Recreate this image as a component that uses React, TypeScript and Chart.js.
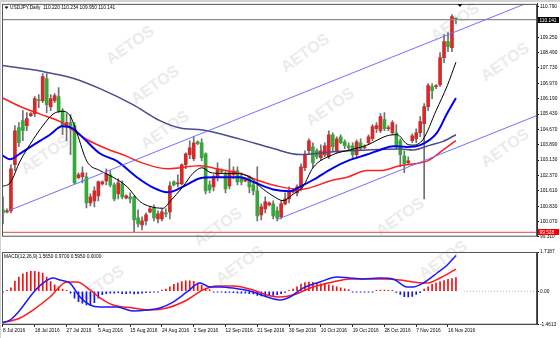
import React, { useEffect, useRef } from "react";
import { Chart, registerables } from "chart.js";

Chart.register(...registerables);

const FONT = "'Liberation Sans', Arial, sans-serif";

const titleText = "USDJPY,Daily  110.220 110.234 109.950 110.141";
const macdTitle = "MACD(12,26,9) 1.5650 0.9700 0.5950 0.0000";

const dateLabels = ["8 Jul 2016", "18 Jul 2016", "27 Jul 2016", "5 Aug 2016", "15 Aug 2016", "24 Aug 2016", "2 Sep 2016", "12 Sep 2016", "21 Sep 2016", "30 Sep 2016", "10 Oct 2016", "19 Oct 2016", "28 Oct 2016", "7 Nov 2016", "16 Nov 2016"];
const dateIndex = [0, 8, 16, 24, 32, 40, 48, 56, 64, 72, 80, 88, 96, 104, 112];

const opens = [100.65, 100.55, 100.6, 102.9, 104.75, 105.1, 104.85, 105.35, 105.45, 106.15, 106.1, 107.2, 105.8, 106.1, 106.3, 105.6, 104.8, 105.0, 104.85, 102.25, 102.3, 102.3, 101.0, 101.1, 101.35, 101.95, 102.1, 102.4, 101.9, 101.45, 101.95, 101.25, 101.3, 101.3, 100.25, 99.9, 100.1, 100.55, 100.75, 100.2, 100.2, 100.5, 100.55, 102.05, 101.95, 101.95, 102.9, 103.4, 103.2, 104.05, 104.0, 103.45, 101.9, 101.8, 102.3, 102.6, 102.45, 101.85, 102.4, 102.6, 102.3, 102.1, 102.3, 101.9, 101.6, 100.4, 100.7, 100.9, 100.95, 100.6, 100.3, 100.95, 101.2, 101.55, 101.5, 101.75, 102.75, 103.6, 103.8, 103.6, 103.25, 103.4, 103.3, 104.4, 103.6, 104.3, 104.05, 103.85, 103.85, 103.4, 104.0, 103.75, 104.0, 104.2, 104.7, 104.6, 105.15, 104.7, 104.5, 104.5, 104.1, 103.35, 103.0, 104.1, 104.2, 104.5, 104.95, 105.8, 106.8, 106.8, 106.9, 108.25, 109.05, 108.75, 110.22];
const highs = [101.3, 100.7, 102.9, 104.85, 105.0, 105.6, 105.5, 105.5, 106.3, 106.4, 107.45, 107.45, 106.4, 106.45, 106.75, 105.7, 105.45, 105.4, 105.0, 102.5, 102.8, 102.5, 101.45, 101.8, 102.1, 102.1, 102.7, 102.6, 102.0, 102.2, 102.1, 101.4, 101.5, 101.35, 100.65, 100.3, 100.5, 100.8, 100.9, 100.6, 100.7, 100.7, 102.05, 102.1, 102.4, 102.95, 103.5, 104.1, 104.3, 104.1, 104.2, 103.5, 102.1, 102.4, 103.0, 102.7, 102.55, 103.2, 102.8, 102.8, 102.5, 102.25, 102.35, 102.0, 102.8, 100.95, 101.3, 101.05, 101.1, 100.8, 101.1, 101.5, 101.8, 101.7, 101.9, 102.95, 103.6, 104.2, 104.0, 103.7, 103.9, 104.0, 104.6, 104.5, 104.3, 104.4, 104.15, 104.0, 104.0, 104.15, 104.2, 103.9, 104.4, 104.9, 105.0, 105.45, 105.5, 104.85, 105.1, 104.9, 104.2, 103.6, 103.3, 104.45, 104.7, 105.3, 105.95, 106.95, 106.95, 106.9, 108.5, 109.4, 109.5, 110.4, 110.234];
const lows = [99.95, 100.5, 100.5, 102.6, 103.8, 104.1, 104.6, 105.3, 105.3, 105.75, 106.0, 105.5, 105.6, 106.0, 105.5, 104.4, 104.1, 103.4, 101.95, 102.2, 102.0, 100.75, 100.85, 100.8, 101.1, 101.9, 101.9, 101.8, 101.1, 101.2, 101.2, 101.2, 101.0, 99.55, 99.8, 99.65, 99.9, 100.5, 100.1, 100.0, 100.1, 100.3, 100.2, 101.85, 101.8, 101.9, 102.7, 103.2, 103.1, 103.9, 103.1, 101.45, 101.5, 101.6, 102.1, 102.5, 101.5, 101.7, 102.2, 101.9, 101.9, 102.05, 101.5, 101.4, 100.1, 100.15, 100.5, 100.85, 100.2, 100.1, 100.2, 100.9, 101.0, 101.5, 101.35, 101.6, 102.6, 103.4, 102.75, 103.2, 103.1, 103.3, 103.2, 103.6, 103.5, 103.95, 103.7, 103.6, 103.2, 103.25, 103.6, 103.7, 103.9, 104.1, 104.5, 104.5, 104.6, 104.6, 104.4, 103.7, 102.8, 102.5, 102.9, 104.0, 104.0, 104.3, 101.2, 105.6, 106.2, 106.7, 106.8, 108.0, 108.55, 108.55, 109.95];
const closes = [100.5, 100.6, 102.7, 104.6, 104.0, 104.6, 105.2, 105.45, 106.2, 106.1, 107.3, 105.9, 106.2, 106.35, 105.6, 104.8, 105.0, 104.85, 102.0, 102.4, 102.5, 101.0, 101.3, 101.6, 102.05, 102.05, 102.45, 101.9, 101.2, 102.0, 101.3, 101.35, 101.2, 100.15, 99.95, 100.1, 100.4, 100.7, 100.25, 100.45, 100.55, 100.45, 101.85, 101.9, 102.0, 102.9, 103.45, 103.75, 104.0, 103.95, 103.25, 101.6, 101.65, 102.3, 102.7, 102.55, 101.7, 102.5, 102.6, 102.05, 102.05, 102.2, 101.8, 101.6, 100.35, 100.8, 101.05, 101.0, 100.35, 100.25, 100.95, 101.2, 101.6, 101.6, 101.8, 102.8, 103.4, 104.1, 103.0, 103.3, 103.6, 103.85, 104.4, 103.8, 104.2, 104.0, 103.85, 103.75, 103.4, 104.05, 103.7, 103.8, 104.3, 104.8, 104.85, 105.3, 104.7, 104.75, 105.0, 103.8, 103.4, 102.95, 103.1, 104.35, 104.5, 105.05, 105.8, 106.85, 106.6, 106.85, 108.25, 109.05, 108.8, 110.3, 110.141];

const maSlow = [[-0.5, 107.86], [10.1, 107.55], [17.6, 107.22], [24.4, 106.7], [32.7, 105.9], [39.5, 105.1], [44.6, 104.73], [50.3, 104.63], [59.7, 104.18], [68.0, 103.71], [74.8, 103.41], [83.1, 103.55], [91.6, 103.64], [99.9, 103.69], [103.2, 103.64], [107.5, 103.88], [110.8, 104.07], [114, 104.4]];
const maRed = [[-0.5, 106.28], [4.3, 105.81], [9.3, 105.43], [14.4, 105.05], [17.6, 104.63], [21.1, 104.16], [26.2, 103.69], [31.2, 103.32], [34.5, 103.03], [41.3, 102.7], [49.6, 102.85], [54.6, 102.66], [59.7, 102.47], [63.9, 102.14], [69.7, 101.81], [74.8, 101.67], [83.1, 102.14], [86.6, 102.28], [91.6, 102.61], [94.9, 102.61], [99.9, 102.85], [103.2, 102.94], [106.7, 103.08], [110.8, 103.64], [114, 104.11]];
const maBlue = [[-0.5, 103.41], [1.8, 103.17], [4.3, 103.46], [7.6, 103.88], [11.8, 104.4], [14.9, 104.82], [17.4, 104.73], [20.1, 104.26], [24.4, 103.46], [28.7, 103.08], [33.7, 102.28], [37.8, 101.76], [41.3, 101.53], [42.8, 101.58], [46.3, 101.91], [49.6, 102.23], [52.9, 102.28], [59.7, 102.28], [62.9, 102.05], [68.0, 101.67], [72.2, 101.58], [74.8, 101.81], [78.0, 102.14], [83.1, 102.75], [86.6, 103.08], [91.6, 103.41], [94.9, 103.64], [98.2, 103.83], [101.7, 103.79], [105.0, 103.88], [109.2, 104.49], [111.7, 105.43], [114, 106.23]];
const maBlack = [[-0.5, 101.81], [1.8, 102.0], [4.3, 103.08], [7.6, 104.16], [10.1, 104.87], [12.6, 105.43], [14.9, 105.57], [16.9, 105.34], [18.6, 104.49], [21.1, 103.08], [24.4, 102.61], [27.7, 102.28], [31.2, 101.81], [34.5, 101.06], [37.0, 100.82], [40.3, 100.73], [42.0, 101.06], [45.3, 101.81], [47.8, 102.47], [50.1, 102.75], [52.1, 102.52], [54.6, 102.47], [57.9, 102.47], [62.2, 102.28], [64.7, 101.81], [68.0, 101.34], [70.5, 101.11], [73.0, 101.43], [75.5, 101.81], [78.0, 102.75], [83.1, 103.41], [87.3, 103.64], [91.6, 103.88], [96.7, 104.35], [99.2, 104.4], [101.7, 103.93], [103.2, 103.88], [105.7, 104.16], [109.0, 105.6], [111.8, 106.84], [114, 108.02]];

const channelUpper = [[1.76, 100.635], [134.4, 111.17]];
const channelLower = [[68.97, 100.165], [134.4, 105.36]];

const bidPrice = 110.141;
const levelPrice = 99.528;
const shiftIndex = 115;

const priceTicks = [110.79, 109.25, 108.49, 107.73, 106.97, 106.19, 105.43, 104.67, 103.89, 103.13, 102.37, 101.61, 100.83, 100.07, 99.31];
const macdTicks = [1.7187, 0, -1.4613];
const macdTickLabels = ["1.7187", "0.00", "-1.4613"];

const macdHist = [-0.04, 0.04, 0.15, 0.45, 0.62, 0.76, 0.83, 0.87, 0.87, 0.84, 0.8, 0.62, 0.42, 0.28, 0.18, 0.1, 0.03, -0.08, -0.3, -0.45, -0.52, -0.6, -0.6, -0.5, -0.3, -0.15, -0.1, -0.08, -0.08, -0.06, -0.1, -0.1, -0.08, -0.12, -0.1, -0.08, -0.06, -0.05, -0.04, -0.04, 0.05, 0.1, 0.2, 0.3, 0.36, 0.42, 0.46, 0.46, 0.44, 0.36, 0.26, 0.14, 0.07, -0.03, -0.04, -0.04, -0.06, -0.05, -0.06, -0.07, -0.08, -0.08, -0.1, -0.12, -0.18, -0.2, -0.2, -0.19, -0.18, -0.15, -0.1, -0.05, 0.04, 0.1, 0.2, 0.32, 0.38, 0.4, 0.39, 0.35, 0.33, 0.3, 0.28, 0.24, 0.2, 0.15, 0.11, 0.08, -0.03, -0.04, -0.04, -0.03, -0.03, -0.03, 0.03, 0.05, 0.05, 0.04, 0.04, -0.05, -0.14, -0.23, -0.25, -0.22, -0.14, -0.06, 0.1, 0.2, 0.3, 0.36, 0.42, 0.47, 0.52, 0.56, 0.595];
const macdMain = [[-0.25, -1.37], [1.76, -1.26], [4.28, -0.82], [7.55, -0.07], [10.07, 0.36], [12.58, 0.58], [14.35, 0.49], [16.86, 0.36], [19.38, -0.25], [21.9, -0.6], [24.41, -0.69], [28.69, -0.69], [32.72, -0.86], [36.24, -0.82], [39.52, -0.73], [42.79, -0.47], [46.31, -0.03], [49.58, 0.36], [52.1, 0.19], [54.62, 0.19], [57.89, 0.14], [62.92, -0.03], [66.45, -0.25], [69.72, -0.38], [72.24, -0.25], [75.51, 0.14], [79.79, 0.41], [84.07, 0.63], [87.34, 0.58], [90.61, 0.54], [94.89, 0.58], [98.16, 0.54], [101.69, 0.19], [103.2, 0.19], [105.71, 0.36], [109.24, 0.8], [111.76, 1.14], [114.02, 1.565]];
const macdSignal = [[-0.25, -1.39], [4.28, -1.17], [7.55, -0.82], [11.83, -0.25], [16.11, 0.41], [18.63, 0.41], [21.9, 0.06], [24.41, -0.29], [27.69, -0.6], [32.72, -0.73], [37.0, -0.82], [41.28, -0.73], [46.31, -0.38], [50.34, 0.06], [53.86, 0.23], [57.89, 0.23], [62.92, 0.06], [66.45, -0.16], [69.72, -0.25], [72.99, -0.16], [78.03, 0.19], [83.06, 0.41], [87.34, 0.54], [91.62, 0.54], [96.65, 0.54], [99.92, 0.49], [103.2, 0.41], [106.72, 0.36], [109.99, 0.58], [114.02, 0.97]];

const watermarks = [[130, 45], [155, 85], [165, 130], [45, 155], [305, 53], [330, 107], [455, 22], [505, 62], [505, 148], [400, 217], [218, 227], [100, 285], [240, 265], [443, 260]];

const X_MIN = -0.25;
const X_MAX = 134.4;
const P_MIN = 99.31;
const P_MAX = 110.93;

const pts = (arr: number[][]) => arr.map(([x, y]) => ({ x, y }));
const UP = "#d42a2a";
const DOWN = "#36a83a";

function lineDs(data: any, color: string, width: number, order: number, extra: any = {}) {
  return {
    type: "line",
    data,
    borderColor: color,
    borderWidth: width,
    pointRadius: 0,
    fill: false,
    cubicInterpolationMode: "monotone",
    order,
    ...extra,
  };
}

function drawBox(ctx: CanvasRenderingContext2D, x: number, y: number, bg: string, text: string) {
  ctx.fillStyle = bg;
  ctx.fillRect(x, Math.round(y) - 3, 21, 6);
  ctx.fillStyle = "#fff";
  ctx.font = `4.8px ${FONT}`;
  ctx.textBaseline = "middle";
  ctx.textAlign = "left";
  ctx.fillText(text, x + 1.5, Math.round(y) + 0.3);
}

const mainDecor = {
  id: "mainDecor",
  afterDraw(chart: any) {
    const { ctx, chartArea: a, scales } = chart;
    ctx.save();
    ctx.strokeStyle = "#555";
    ctx.lineWidth = 1;
    ctx.strokeRect(a.left + 0.5, a.top + 0.5, a.right - a.left - 1, a.bottom - a.top - 1);
    ctx.fillStyle = "#000";
    ctx.beginPath();
    ctx.moveTo(a.left + 2.5, a.top + 2.5);
    ctx.lineTo(a.left + 6.5, a.top + 2.5);
    ctx.lineTo(a.left + 4.5, a.top + 5);
    ctx.closePath();
    ctx.fill();
    ctx.font = `4.8px ${FONT}`;
    ctx.textBaseline = "middle";
    ctx.textAlign = "left";
    ctx.fillText(titleText, a.left + 8, a.top + 3.6);
    const tx = scales.x.getPixelForValue(shiftIndex);
    ctx.beginPath();
    ctx.moveTo(tx - 2.5, a.top);
    ctx.lineTo(tx + 2.5, a.top);
    ctx.lineTo(tx, a.top + 3);
    ctx.closePath();
    ctx.fill();
    drawBox(ctx, a.right + 1, scales.y.getPixelForValue(bidPrice), "#000", bidPrice.toFixed(3));
    drawBox(ctx, a.right + 1, scales.y.getPixelForValue(levelPrice), "#f00000", levelPrice.toFixed(3));
    ctx.restore();
  },
};

const macdDecor = {
  id: "macdDecor",
  afterDraw(chart: any) {
    const { ctx, chartArea: a } = chart;
    ctx.save();
    ctx.strokeStyle = "#555";
    ctx.lineWidth = 1;
    ctx.strokeRect(a.left + 0.5, a.top + 0.5, a.right - a.left - 1, a.bottom - a.top - 1);
    ctx.fillStyle = "#000";
    ctx.font = `4.8px ${FONT}`;
    ctx.textBaseline = "middle";
    ctx.textAlign = "left";
    ctx.fillText(macdTitle, a.left + 2, a.top + 4.5);
    ctx.restore();
  },
};

const tickFont = { size: 4.8, family: FONT };

function xScale(display: boolean) {
  return {
    type: "linear",
    min: X_MIN,
    max: X_MAX,
    offset: false,
    display,
    afterBuildTicks: (s: any) => {
      s.ticks = dateIndex.map((v) => ({ value: v }));
    },
    afterFit: (s: any) => {
      s.height = 13.3;
    },
    ticks: {
      autoSkip: false,
      maxRotation: 0,
      minRotation: 0,
      align: "start",
      padding: 1,
      color: "#000",
      font: tickFont,
      callback: (_v: any, i: number) => dateLabels[i],
    },
    grid: { drawOnChartArea: false, drawTicks: true, tickLength: 2, color: "#000", offset: false },
    border: { display: true, color: "#333" },
  };
}

function yScale(min: number, max: number, ticks: number[], labelFn: (v: number, i: number) => string) {
  return {
    position: "right",
    min,
    max,
    afterBuildTicks: (s: any) => {
      s.ticks = ticks.map((v) => ({ value: v }));
    },
    afterFit: (s: any) => {
      s.width = 23;
    },
    ticks: { autoSkip: false, padding: 1, color: "#000", font: tickFont, callback: (v: any, i: number) => labelFn(Number(v), i) },
    grid: { drawOnChartArea: false, drawTicks: true, tickLength: 2, color: "#000" },
    border: { display: true, color: "#333" },
  };
}

export default function App() {
  const mainRef = useRef<HTMLCanvasElement>(null);
  const macdRef = useRef<HTMLCanvasElement>(null);

  useEffect(() => {
    const idx = opens.map((_, i) => i);
    const bodyColors = idx.map((i) => (closes[i] >= opens[i] ? UP : DOWN));
    const main = new Chart(mainRef.current as HTMLCanvasElement, {
      type: "bar",
      data: {
        datasets: [
          {
            type: "bar",
            data: idx.map((i) => ({ x: i, y: [lows[i], highs[i]] })),
            backgroundColor: "#707070",
            barThickness: 1,
            grouped: false,
            borderWidth: 0,
            order: 12,
          },
          {
            type: "bar",
            data: idx.map((i) => ({ x: i, y: [opens[i], closes[i]] })),
            backgroundColor: bodyColors,
            barThickness: 3,
            minBarLength: 1,
            grouped: false,
            borderWidth: 0,
            order: 11,
          },
          lineDs([{ x: X_MIN, y: bidPrice }, { x: X_MAX, y: bidPrice }], "#8c8c8c", 1.2, 9),
          lineDs([{ x: X_MIN, y: levelPrice }, { x: X_MAX, y: levelPrice }], "#e66a6a", 1.2, 9),
          lineDs(pts(maSlow), "#4a4a8e", 1.5, 5),
          lineDs(pts(maRed), "#ff2020", 1.5, 4),
          lineDs(pts(maBlue), "#0000f0", 2, 3),
          lineDs(pts(maBlack), "#000000", 1, 2),
          lineDs(pts(channelUpper), "#7070ff", 1, 1, { cubicInterpolationMode: "default", tension: 0 }),
          lineDs(pts(channelLower), "#7070ff", 1, 1, { cubicInterpolationMode: "default", tension: 0 }),
        ],
      } as any,
      options: {
        responsive: false,
        animation: false,
        events: [],
        layout: { padding: { left: 2, top: 3, right: 0, bottom: 6 } },
        plugins: { legend: { display: false }, tooltip: { enabled: false }, title: { display: false } },
        scales: {
          x: xScale(false),
          y: yScale(P_MIN, P_MAX, priceTicks, (v) => v.toFixed(3)),
        },
      } as any,
      plugins: [mainDecor],
    });

    const macd = new Chart(macdRef.current as HTMLCanvasElement, {
      type: "bar",
      data: {
        datasets: [
          {
            type: "bar",
            data: macdHist.map((v, i) => ({ x: i, y: v })),
            backgroundColor: macdHist.map((v) => (v >= 0 ? "#f01010" : "#1010f0")),
            barThickness: 1,
            minBarLength: 1,
            grouped: false,
            borderWidth: 0,
            order: 5,
          },
          lineDs([{ x: shiftIndex + 1, y: 0 }, { x: X_MAX, y: 0 }], "#b0b0b0", 1, 6, { borderDash: [1, 2], cubicInterpolationMode: "default", tension: 0 }),
          lineDs(pts(macdSignal), "#ff1a1a", 1.5, 2),
          lineDs(pts(macdMain), "#1a1aff", 1.5, 1),
        ],
      } as any,
      options: {
        responsive: false,
        animation: false,
        events: [],
        layout: { padding: { left: 2, top: 6, right: 0, bottom: 0 } },
        plugins: { legend: { display: false }, tooltip: { enabled: false }, title: { display: false } },
        scales: {
          x: xScale(true),
          y: yScale(-1.4613, 1.7187, macdTicks, (_v, i) => macdTickLabels[i]),
        },
      } as any,
      plugins: [macdDecor],
    });

    return () => {
      main.destroy();
      macd.destroy();
    };
  }, []);

  return (
    <div style={{ position: "fixed", left: 0, top: 0, width: 560, height: 338, background: "#fff", overflow: "hidden" }}>
      <div style={{ position: "absolute", left: 0, top: 0, width: 560, height: 2, background: "#d2d2d2" }} />
      <div style={{ position: "absolute", left: 0, top: 0, width: 1, height: 338, background: "#d2d2d2" }} />
      {watermarks.map(([x, y], k) => (
        <span
          key={k}
          style={{
            position: "absolute",
            left: x,
            top: y,
            transform: "translate(-50%, -50%) rotate(-35deg)",
            font: `bold 16px ${FONT}`,
            color: "#ebebeb",
            whiteSpace: "nowrap",
            zIndex: 0,
          }}
        >
          AETOS
        </span>
      ))}
      <canvas ref={mainRef} width={560} height={256} style={{ position: "absolute", left: 0, top: 0, zIndex: 1 }} />
      <canvas ref={macdRef} width={560} height={92} style={{ position: "absolute", left: 0, top: 246, zIndex: 1 }} />
    </div>
  );
}
